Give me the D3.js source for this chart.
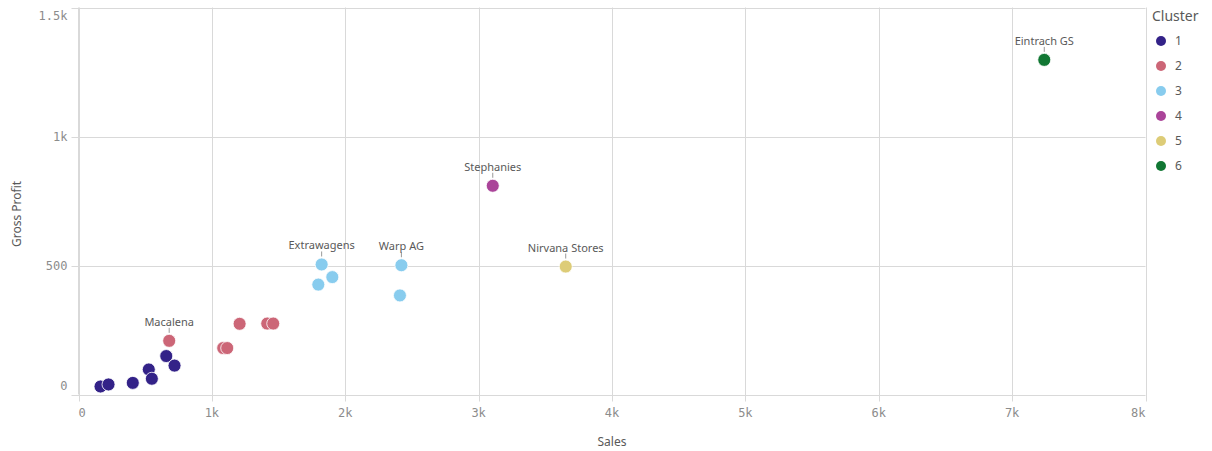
<!DOCTYPE html>
<html><head><meta charset="utf-8">
<script src="https://cdn.jsdelivr.net/npm/d3@7"></script>
<style>
html,body{margin:0;padding:0;background:#fff;}
svg{display:block;}
</style></head>
<body>
<svg id="chart" width="1212" height="451"></svg>
<script>
// Data
const names    = ["","","","","","","", "Macalena","","","","","", "Extrawagens","","","Warp AG","", "Stephanies", "Nirvana Stores", "Eintrach GS"];
const sales    = [165,225,407,527,550,658,720, 680,1085,1115,1208,1415,1460, 1823,1903,1798,2421,2410, 3106, 3653, 7241];
const profit   = [31,39,45,97,61,149,112, 208,180,180,274,275,275, 504,455,426,501,384, 809, 496, 1297];
const clusters = [1,1,1,1,1,1,1, 2,2,2,2,2,2, 3,3,3,3,3, 4, 5, 6];
const clusterIds = [1,2,3,4,5,6];
const clusterColors = ["#332288","#CC6677","#88CCEE","#AA4499","#DDCC77","#117733"];
const xTicks = [0,1000,2000,3000,4000,5000,6000,7000,8000];
const xTickLabels = ["0","1k","2k","3k","4k","5k","6k","7k","8k"];
const yTicks = [0,500,1000,1500];
const yTickLabels = ["0","500","1k","1.5k"];

const svg = d3.select("#chart");
const L = 78.5, R = 1145.5, T = 7.5, B = 394.5;
const x = d3.scaleLinear().domain([0,8000]).range([L, R]);
const y = d3.scaleLinear().domain([0,1500]).range([B, T]);
const color = d3.scaleOrdinal().domain(clusterIds).range(clusterColors);
const gridC = "#d9d9d9", txtC = "#595959", tickC = "#8c8c8c";
const monoFont = "'DejaVu Sans Mono', monospace";
const sansFont = "'Noto Sans', 'Open Sans', sans-serif";

// grid
svg.append("g").selectAll("line").data(xTicks).join("line")
  .attr("x1", d => Math.round(x(d))+0.5).attr("x2", d => Math.round(x(d))+0.5)
  .attr("y1", T).attr("y2", B + 7).attr("stroke", gridC);
svg.append("g").selectAll("line").data(yTicks).join("line")
  .attr("y1", d => Math.round(y(d))+0.5).attr("y2", d => Math.round(y(d))+0.5)
  .attr("x1", L - 7).attr("x2", R).attr("stroke", gridC);
svg.append("line").attr("x1", L).attr("x2", L).attr("y1", T).attr("y2", B).attr("stroke", gridC);

// tick labels
const yOff = d => d===1500 ? 12.5 : (d===0 ? -5 : 4.2);
svg.append("g").selectAll("text").data(yTicks).join("text")
  .attr("x", L - 11).attr("y", d => y(d) + yOff(d))
  .attr("text-anchor","end").attr("fill", tickC)
  .style("font-family", monoFont).style("font-size","12px")
  .text((d,i) => yTickLabels[i]);
svg.append("g").selectAll("text").data(xTicks).join("text")
  .attr("x", d => x(d)).attr("y", 417)
  .attr("text-anchor", (d,i) => i===0 ? "start" : (i===xTicks.length-1 ? "end" : "middle"))
  .attr("fill", tickC).style("font-family", monoFont).style("font-size","12px")
  .text((d,i) => xTickLabels[i]);

// axis titles
svg.append("text").attr("x", 612).attr("y", 446).attr("text-anchor","middle")
  .attr("fill", txtC).style("font-family", sansFont).style("font-size","12px").text("Sales");
svg.append("text").attr("transform","translate(21,214) rotate(-90)").attr("text-anchor","middle")
  .attr("fill", txtC).style("font-family", sansFont).style("font-size","12px").text("Gross Profit");

// points
const data = sales.map((s,i) => ({name:names[i], s, p:profit[i], c:clusters[i]}));
svg.append("g").selectAll("circle").data(data).join("circle")
  .attr("cx", d => x(d.s)).attr("cy", d => y(d.p)).attr("r", 6.5)
  .attr("fill", d => color(d.c)).attr("stroke","#fff").attr("stroke-width",0.8);

// labels
const lab = svg.append("g").selectAll("g").data(data.filter(d => d.name)).join("g");
lab.append("line").attr("x1", d => x(d.s)).attr("x2", d => x(d.s))
  .attr("y1", d => y(d.p) - 13).attr("y2", d => y(d.p) - 8).attr("stroke", "#999");
lab.append("text").attr("x", d => x(d.s)).attr("y", d => y(d.p) - 15)
  .attr("text-anchor","middle").attr("fill", txtC)
  .style("font-family", sansFont).style("font-size","11px").text(d => d.name);

// legend
svg.append("text").attr("x", 1152).attr("y", 21).attr("fill", txtC)
  .style("font-family", sansFont).style("font-size","14px").text("Cluster");
const leg = svg.append("g").selectAll("g").data(clusterIds).join("g")
  .attr("transform", (d,i) => `translate(1161,${41 + i*25})`);
leg.append("circle").attr("r", 5).attr("fill", d => color(d));
leg.append("text").attr("x", 14).attr("dy","0.35em").attr("fill", txtC)
  .style("font-family", sansFont).style("font-size","12px").text(d => d);
</script>
</body></html>
